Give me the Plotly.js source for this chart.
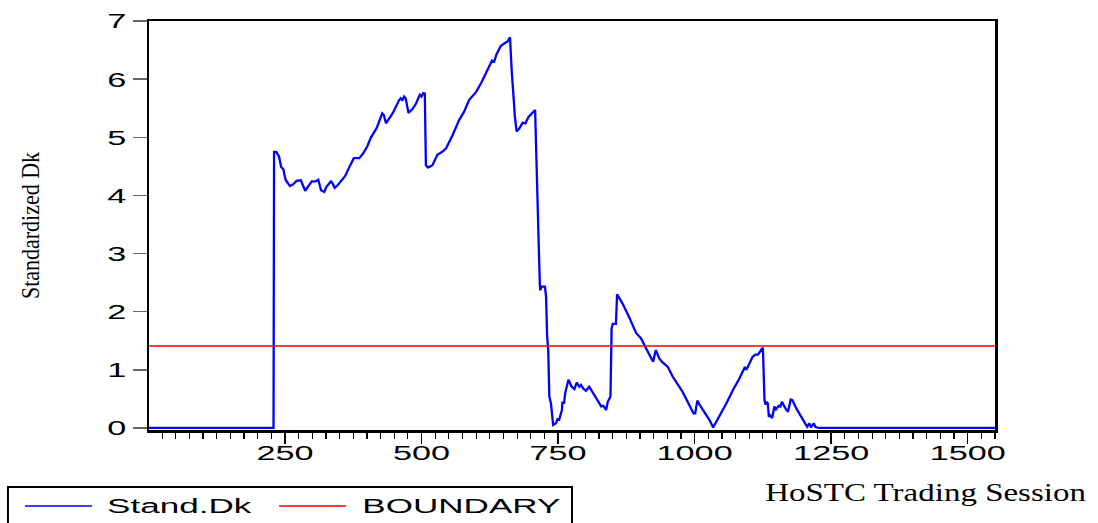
<!DOCTYPE html>
<html>
<head>
<meta charset="utf-8">
<script src="https://cdn.plot.ly/plotly-3.0.1.min.js"></script>
<style>
  html, body { margin: 0; padding: 0; background: #ffffff; }
  #chart { width: 1098px; height: 523px; }
</style>
</head>
<body>
<div id="chart"></div>
<script>
// HoSTC trading sessions and the standardized Dk statistic
const sessions = [1, 229, 230, 234, 239, 243, 247, 251, 259, 265, 271, 279, 287, 293, 299, 306, 311, 316, 322, 326,
  334, 337, 341, 346, 355, 360, 367, 376, 386, 393, 401, 407, 418, 428, 431, 435, 437, 447, 459, 462,
  465, 468, 471, 476, 483, 490, 494, 497, 500, 503, 506, 508, 512, 520, 529, 538, 545, 557, 569, 578,
  587, 593, 600, 609, 618, 625, 629, 633, 637, 645, 651, 654, 657, 660, 662, 665, 668, 671, 674, 679,
  685, 690, 696, 703, 708, 710, 712, 715, 717, 720, 726, 728, 730, 732, 734, 737, 741, 746, 749, 752,
  757, 758, 761, 763, 769, 775, 780, 784, 789, 792, 796, 801, 807, 813, 819, 829, 833, 838, 841, 846,
  848, 850, 856, 858, 868, 880, 893, 902, 911, 917, 924, 929, 935, 940, 951, 960, 969, 978, 990, 998,
  1001, 1005, 1009, 1016, 1021, 1027, 1034, 1045, 1058, 1070, 1082, 1092, 1094, 1097, 1106, 1111, 1116, 1124, 1125, 1128,
  1130, 1132, 1134, 1136, 1138, 1142, 1146, 1149, 1154, 1157, 1160, 1166, 1171, 1176, 1179, 1186, 1195, 1206, 1210, 1213,
  1218, 1221, 1227, 1550];

const standDk = [0, 0, 4.75, 4.75, 4.67, 4.49, 4.45, 4.27, 4.16, 4.19, 4.25, 4.26, 4.08, 4.16, 4.24, 4.24, 4.27, 4.09, 4.06, 4.15,
  4.24, 4.21, 4.13, 4.17, 4.28, 4.33, 4.47, 4.64, 4.64, 4.72, 4.85, 4.99, 5.16, 5.41, 5.38, 5.24, 5.27, 5.41, 5.64, 5.67,
  5.63, 5.70, 5.67, 5.42, 5.48, 5.58, 5.67, 5.73, 5.70, 5.76, 5.75, 4.52, 4.48, 4.52, 4.70, 4.75, 4.81, 5.04, 5.30, 5.44,
  5.64, 5.71, 5.78, 5.93, 6.10, 6.26, 6.32, 6.30, 6.42, 6.57, 6.62, 6.63, 6.64, 6.70, 6.72, 6.16, 5.70, 5.35, 5.10, 5.15,
  5.25, 5.24, 5.35, 5.42, 5.47, 4.75, 3.89, 3.00, 2.37, 2.43, 2.43, 2.26, 1.57, 1.34, 0.54, 0.42, 0.05, 0.08, 0.15, 0.14,
  0.31, 0.45, 0.42, 0.60, 0.83, 0.71, 0.67, 0.78, 0.71, 0.74, 0.68, 0.64, 0.71, 0.62, 0.51, 0.37, 0.38, 0.31, 0.45, 0.54,
  1.71, 1.79, 1.79, 2.30, 2.14, 1.91, 1.63, 1.54, 1.37, 1.26, 1.14, 1.34, 1.20, 1.14, 1.05, 0.88, 0.74, 0.62, 0.40, 0.25,
  0.25, 0.47, 0.40, 0.30, 0.24, 0.14, 0.01, 0.19, 0.42, 0.65, 0.85, 1.05, 1.00, 1.04, 1.22, 1.26, 1.26, 1.37, 1.38, 0.48,
  0.40, 0.45, 0.42, 0.19, 0.22, 0.17, 0.37, 0.32, 0.38, 0.37, 0.45, 0.34, 0.28, 0.49, 0.48, 0.34, 0.19, 0.02, 0.08, 0.01,
  0.08, 0.02, 0, 0];

// Critical boundary, constant over the whole sample
const boundaryX = [1, 1550];
const boundaryY = [1.41, 1.41];

const seriesNames = ['Stand.Dk', 'BOUNDARY'];
const xTickVals = [250, 500, 750, 1000, 1250, 1500];
const xTickText = ['250', '500', '750', '1000', '1250', '1500'];
const yTickVals = [0, 1, 2, 3, 4, 5, 6, 7];
const yTickText = ['0', '1', '2', '3', '4', '5', '6', '7'];
const xTitle = 'HoSTC Trading Session';
const yTitle = 'Standardized Dk';

const sans = 'Liberation Sans, Arial, sans-serif';
const serif = 'Liberation Serif, Times New Roman, serif';

const traces = [
  { x: sessions, y: standDk, type: 'scatter', mode: 'lines', name: seriesNames[0],
    line: { color: '#0000ff', width: 2.3 }, showlegend: false, hoverinfo: 'x+y' },
  { x: boundaryX, y: boundaryY, type: 'scatter', mode: 'lines', name: seriesNames[1],
    line: { color: '#ff0000', width: 1.3 }, showlegend: false, hoverinfo: 'y' }
];

// Boxed legend drawn below the plot, left aligned
const legendShapes = [
  { type: 'rect', xref: 'paper', yref: 'paper', x0: -0.1667, x1: 0.5, y0: -0.1394, y1: -0.30,
    line: { color: '#000000', width: 2 }, fillcolor: 'rgba(0,0,0,0)' },
  { type: 'line', xref: 'paper', yref: 'paper', x0: -0.1466, x1: -0.0674, y0: -0.1858, y1: -0.1858,
    line: { color: '#0000ff', width: 1.3 } },
  { type: 'line', xref: 'paper', yref: 'paper', x0: 0.1537, x1: 0.2329, y0: -0.1858, y1: -0.1858,
    line: { color: '#ff0000', width: 1.3 } }
];

const annotations = [
  { text: xTitle, xref: 'paper', yref: 'paper', x: 0.9184, y: -0.1516, xanchor: 'center', yanchor: 'middle',
    showarrow: false, font: { family: serif, size: 25, color: '#000000' } },
  { text: seriesNames[0], xref: 'paper', yref: 'paper', x: 0.0355, y: -0.1858, xanchor: 'center', yanchor: 'middle',
    showarrow: false, font: { family: sans, size: 21, color: '#000000' } },
  { text: seriesNames[1], xref: 'paper', yref: 'paper', x: 0.3694, y: -0.1858, xanchor: 'center', yanchor: 'middle',
    showarrow: false, font: { family: sans, size: 21, color: '#000000' } }
];
// horizontal widening applied to each annotation's text
const annotationStretch = [1.32, 1.67, 1.67];

const layout = {
  width: 1098, height: 523,
  margin: { l: 149, r: 103, t: 21, b: 93, pad: 0 },
  paper_bgcolor: '#ffffff', plot_bgcolor: '#ffffff',
  showlegend: false,
  font: { family: sans, size: 21, color: '#000000' },
  xaxis: {
    range: [1, 1550],
    tickmode: 'array', tickvals: xTickVals, ticktext: xTickText,
    ticks: 'outside', ticklen: 11, tickwidth: 1.5, tickcolor: '#000000',
    minor: { tickmode: 'linear', tick0: 0, dtick: 25, ticks: 'outside', ticklen: 6, tickwidth: 1.2, tickcolor: '#000000', showgrid: false },
    showline: true, linecolor: '#000000', linewidth: 2.5, mirror: true,
    showgrid: false, zeroline: false,
    tickfont: { family: sans, size: 21, color: '#000000' },
    ticklabelstandoff: -9
  },
  yaxis: {
    range: [-0.035, 7],
    tickmode: 'array', tickvals: yTickVals, ticktext: yTickText,
    ticks: 'outside', ticklen: 14, tickwidth: 1.5, tickcolor: '#666666',
    showline: true, linecolor: '#000000', linewidth: 2.5, mirror: true,
    showgrid: false, zeroline: false,
    tickfont: { family: sans, size: 21, color: '#000000' },
    ticklabelstandoff: 2,
    title: { text: yTitle, standoff: 68, font: { family: serif, size: 25, color: '#000000' } }
  },
  shapes: legendShapes,
  annotations: annotations
};

// scale a text element about its anchor point (kx along the text, ky across it)
function widen(el, kx, ky) {
  const x = parseFloat(el.getAttribute('x')) || 0;
  const y = parseFloat(el.getAttribute('y')) || 0;
  if (ky === undefined) ky = 1;
  let base = el.getAttribute('data-base-transform');
  if (base === null) {
    base = el.getAttribute('transform') || '';
    el.setAttribute('data-base-transform', base);
  }
  el.setAttribute('transform', base + ' translate(' + x + ',' + y + ') scale(' + kx + ',' + ky + ') translate(' + (-x) + ',' + (-y) + ')');
}

Plotly.newPlot('chart', traces, layout, { displayModeBar: false, staticPlot: true }).then(function (gd) {
  gd.querySelectorAll('g.xtick text, g.ytick text').forEach(function (t) { widen(t, 1.63); });
  annotationStretch.forEach(function (k, i) {
    const t = gd.querySelector('g.annotation[data-index="' + i + '"] text.annotation-text');
    if (t) widen(t, k);
  });
  // condensed vertical axis title
  const yt = gd.querySelector('.g-ytitle text');
  if (yt) widen(yt, 0.88);
});
</script>
</body>
</html>
